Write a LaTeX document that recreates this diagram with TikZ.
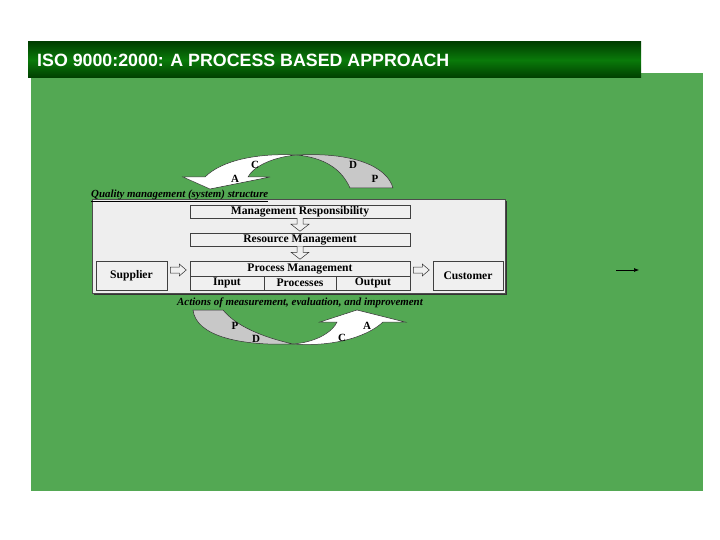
\documentclass[tikz,border=0pt]{standalone}
\usepackage{fontspec}
\setmainfont{Liberation Serif}
\newfontfamily\titlefont{Liberation Sans}
\usetikzlibrary{arrows.meta}
\definecolor{bggreen}{RGB}{83,168,83}
\definecolor{bardark}{RGB}{0,62,0}
\definecolor{barmid}{RGB}{10,122,10}
\definecolor{panelgrey}{RGB}{238,238,238}
\definecolor{boxgrey}{RGB}{240,240,240}
\definecolor{loopgrey}{RGB}{200,200,200}
\tikzset{
  panelbox/.style={draw=black!75, line width=0.5pt, fill=boxgrey, inner sep=0pt,
    font=\bfseries\fontsize{11.6}{13}\selectfont},
  hollowarrow/.style={draw=black!80, fill=boxgrey, line width=0.5pt},
  looplabel/.style={font=\bfseries\fontsize{11}{12}\selectfont, inner sep=0pt},
  captiontext/.style={font=\bfseries\itshape\fontsize{10.9}{12}\selectfont, inner sep=0pt},
}
\begin{document}
\begin{tikzpicture}[x=1pt,y=-1pt]
\useasboundingbox (0,0) rectangle (720,540);
\fill[white] (0,0) rectangle (720,540);
% green panel
\fill[bggreen] (31,73) rectangle (703,491);
% title bar
\shade[top color=bardark, bottom color=bardark, middle color=barmid] (28,42) rectangle (641,78);
\node[anchor=west, text=white, inner sep=0pt, font=\titlefont\bfseries\fontsize{17.8}{20}\selectfont] (title) at (37,60) {ISO 9000:2000: A PROCESS BASED APPROACH};

% top PDCA loop
\fill[loopgrey, draw=black!80, line width=0.5pt] (297,155) .. controls (352,152) and (387,166) .. (393,188) -- (350,188) .. controls (342,170) and (326,158) .. cycle;
\fill[white, draw=black!80, line width=0.5pt] (297,155) .. controls (272,157) and (253,167) .. (248,177) -- (270,177) -- (210,189) -- (183,177) -- (205,177) .. controls (222,160) and (258,153) .. cycle;
\node[looplabel] (tc) at (255,165) {C};
\node[looplabel] (ta) at (235,179) {A};
\node[looplabel] (td) at (353,165) {D};
\node[looplabel] (tp) at (375,179) {P};

% panel
\fill[black!80] (94,201) rectangle (507,295);
\filldraw[fill=panelgrey, draw=black!70, line width=0.5pt] (92,199) rectangle (505,293);
\node[captiontext, anchor=base west] (qms) at (91,197) {\underline{Quality management (system) structure}};

\node[panelbox, minimum width=220pt, minimum height=13pt] (mr) at (300,211.5) {Management Responsibility};
\node[panelbox, minimum width=220pt, minimum height=13pt] (rm) at (300,239.5) {Resource Management};
\node[panelbox, minimum width=220pt, minimum height=15pt] (pm) at (300,268.5) {Process Management};
\node[panelbox, minimum width=74pt, minimum height=14pt] (in) at (227,283) {Input};
\node[panelbox, minimum width=72pt, minimum height=14pt] (pr) at (300,283) {Processes};
\node[panelbox, minimum width=74pt, minimum height=14pt] (out) at (373,283) {Output};
\node[panelbox, minimum width=71pt, minimum height=29pt] (sup) at (131.5,275.5) {Supplier};
\node[panelbox, minimum width=70pt, minimum height=29pt] (cus) at (468,275.5) {Customer};

% hollow down arrows
\path (mr.south) ++(-3,0) coordinate (d1);
\path (rm.south) ++(-3,0) coordinate (d2);
\draw[hollowarrow] (d1) -- ++(0,6) -- ++(-6,0) -- ++(9,7) -- ++(9,-7) -- ++(-6,0) -- ++(0,-6);
\draw[hollowarrow] (d2) -- ++(0,6) -- ++(-6,0) -- ++(9,7) -- ++(9,-7) -- ++(-6,0) -- ++(0,-6);
% hollow right arrows
\path (sup.east) ++(3,-5.5) coordinate (a1);
\path (pm.east) ++(3,1.5) coordinate (a2);
\draw[hollowarrow] (a1) ++(0,-3) -- ++(9,0) -- ++(0,-3) -- ++(7,6) -- ++(-7,6) -- ++(0,-3) -- ++(-9,0) -- cycle;
\draw[hollowarrow] (a2) ++(0,-3) -- ++(9,0) -- ++(0,-3) -- ++(7,6) -- ++(-7,6) -- ++(0,-3) -- ++(-9,0) -- cycle;

\node[captiontext, anchor=base] (act) at (300,305) {Actions of measurement, evaluation, and improvement};

% bottom PDCA loop
\fill[loopgrey, draw=black!80, line width=0.5pt] (193,310) .. controls (196,336) and (240,346) .. (293,344) .. controls (262,337) and (236,326) .. (223,310) -- cycle;
\fill[white, draw=black!80, line width=0.5pt] (293,344) .. controls (318,342) and (333,331) .. (337,322) -- (320,322) -- (357,310) -- (405,322) -- (383,322) .. controls (366,338) and (330,347) .. cycle;
\node[looplabel] (bp) at (235,326) {P};
\node[looplabel] (bd) at (256,339) {D};
\node[looplabel] (bc) at (342,338) {C};
\node[looplabel] (ba) at (367,326) {A};

% stray arrow at right
\coordinate (ra) at (616,270);
\coordinate (rb) at (639,270);
\draw[-{Latex[length=5pt,width=4pt]}, line width=0.6pt] (ra) -- (rb);
\end{tikzpicture}
\end{document}
